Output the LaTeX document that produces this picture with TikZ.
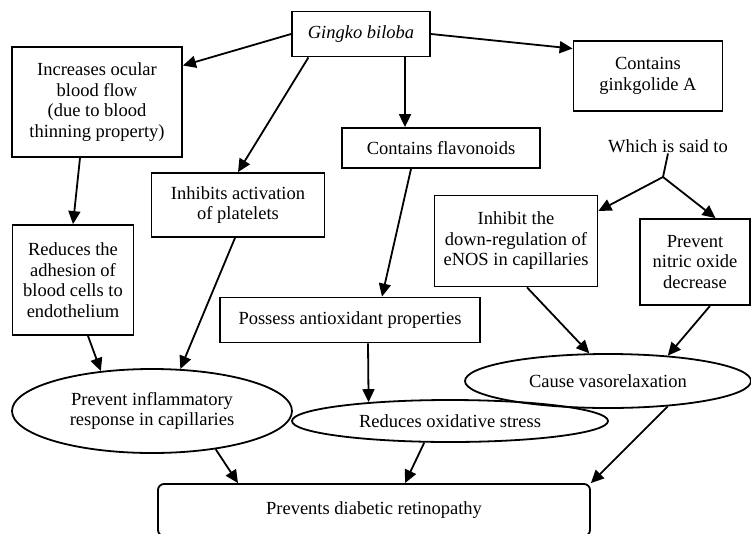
\documentclass[tikz,border=0pt]{standalone}
\usepackage{fontspec}
\setmainfont{Liberation Serif}
\usetikzlibrary{shapes.geometric,arrows.meta}

\begin{document}
\begin{tikzpicture}[x=1pt, y=-1pt, line width=1.8pt, >={Triangle[length=13pt,width=12pt]},
		box/.style={draw, rectangle, align=center, inner sep=0pt, font=\fontsize{18.5}{20.5}\selectfont},
		oval/.style={draw, ellipse, align=center, inner sep=0pt, font=\fontsize{18.5}{20.5}\selectfont},
		plain/.style={align=center, inner sep=0pt, font=\fontsize{18.5}{20.5}\selectfont}]
			\useasboundingbox (0,0) rectangle (751,533);
			%%
			\node[box, minimum width=138pt, minimum height=45pt] (gingko) at (361,34) {\textit{Gingko biloba}};
			\node[box, minimum width=170pt, minimum height=110pt] (ocular) at (97,102) {Increases ocular\\blood flow\\(due to blood\\thinning property)};
			\node[box, minimum width=149pt, minimum height=70pt] (ginkgolide) at (648,76) {Contains\\ginkgolide A};
			\node[box, minimum width=198pt, minimum height=40pt] (flavonoids) at (441,148) {Contains flavonoids};
			\node[plain] (said) at (668,146) {Which is said to};
			\coordinate (split) at (663,177);
			%%
			\node[box, minimum width=173pt, minimum height=64pt] (platelets) at (238,205) {Inhibits activation\\of platelets};
			\node[box, minimum width=121pt, minimum height=110pt] (adhesion) at (73,280) {Reduces the\\adhesion of\\blood cells to\\endothelium};
			\node[box, minimum width=163pt, minimum height=91pt] (enos) at (516,241) {Inhibit the\\down-regulation of\\eNOS in capillaries};
			\node[box, minimum width=110pt, minimum height=86pt] (nitric) at (695,262) {Prevent\\nitric oxide\\decrease};
			\node[box, minimum width=260pt, minimum height=45pt] (antiox) at (350,320) {Possess antioxidant properties};
			%%
			\node[oval, minimum width=280pt, minimum height=84pt] (inflam) at (152,411) {Prevent inflammatory\\response in capillaries};
			\node[oval, minimum width=316pt, minimum height=42pt] (oxid) at (450,421) {Reduces oxidative stress};
			\node[oval, minimum width=286pt, minimum height=54pt] (vaso) at (608,381) {Cause vasorelaxation};
			\node[box, rounded corners=6pt, minimum width=432pt, minimum height=52pt] (retino) at (374,510) {Prevents diabetic retinopathy};
			%%
			\draw[->] (gingko.west) -- (ocular.23);
			\draw[->] (gingko.204) -- (platelets.north);
			\draw[->] ([xshift=44pt]gingko.south) -- ([xshift=-36pt]flavonoids.north);
			\draw[->] (gingko.east) -- (ginkgolide.160);
			%%
			\draw[->] ([xshift=-17pt]ocular.south) -- (adhesion.north);
			\draw[->] ([xshift=-30pt]flavonoids.south) -- ([xshift=32pt]antiox.north);
			\draw (said.south) -- (split);
			\draw[->] (split) -- (enos.20);
			\draw[->] (split) -- (nitric.65);
			%%
			\draw[->] ([xshift=11pt]enos.south) -- (vaso.124);
			\draw[->] ([xshift=15pt]nitric.south) -- (vaso.23.5);
			\draw[->] ([xshift=15pt]adhesion.south) -- (inflam.142);
			\draw[->] ([xshift=-3pt]platelets.south) -- (inflam.56);
			\draw[->] ([xshift=18pt]antiox.south) -- (oxid.167.6);
			%%
			\draw[->] (inflam.-31) -- ([xshift=-136pt]retino.north);
			\draw[->] (oxid.220) -- ([xshift=31pt]retino.north);
			\draw[->] (vaso.-23.5) -- (retino.north east);
		\end{tikzpicture}
\end{document}
